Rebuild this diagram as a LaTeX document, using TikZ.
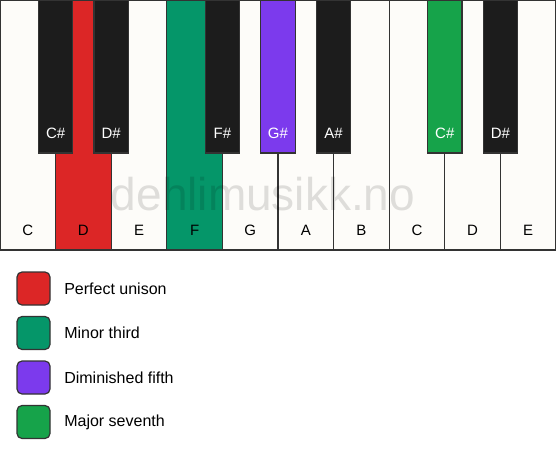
\documentclass[tikz,border=0pt]{standalone}
\usepackage{fontspec}
\setmainfont{Liberation Sans}
\usetikzlibrary{positioning}

\definecolor{keywhite}{HTML}{FDFCF9}
\definecolor{keyblack}{HTML}{1C1C1C}
\definecolor{keyline}{HTML}{333333}
\definecolor{unison}{HTML}{DC2626}
\definecolor{minthird}{HTML}{059669}
\definecolor{dimfifth}{HTML}{7C3AED}
\definecolor{majseventh}{HTML}{16A34A}

\tikzset{
	whitekey/.style={draw=keyline, line width=1.2pt, rectangle, inner sep=0pt, minimum width=\w pt, minimum height=\h pt},
	blackkey/.style={draw=keyline, line width=1.2pt, rectangle, inner sep=0pt, minimum width=\bw pt, minimum height=\bh pt},
	keylabel/.style={font=\fontsize{15}{15}\selectfont, inner sep=0pt},
	legendbox/.style={draw=keyline, line width=1.2pt, rounded corners=5pt, minimum size=33pt, inner sep=0pt},
	legendtext/.style={font=\fontsize{16}{16}\selectfont, inner sep=0pt, anchor=west}
}

\begin{document}
\begin{tikzpicture}[x=1pt,y=1pt]

	\def\w{55.6}		% width of a white key
	\def\h{250}		% height of a white key
	\def\bw{34.5}		% width of a black key
	\def\bh{153}		% height of a black key
	\def\gap{44.5}		% distance between the legend entries

	\useasboundingbox (0,0) rectangle (556,-461);

	\foreach \name/\col [count=\i from 0] in {C/keywhite, D/unison, E/keywhite, F/minthird, G/keywhite, A/keywhite, B/keywhite, C/keywhite, D/keywhite, E/keywhite}{% white keys
		\node[whitekey, fill=\col] (w\i) at ({(\i+0.5)*\w}, -\h/2) {};
		\node[keylabel] (wl\i) at ({(\i+0.5)*\w}, -230) {\name};
	}

	\node[font=\fontsize{46}{46}\selectfont, text=black, opacity=0.12, inner sep=0pt, anchor=base] (mark) at (263,-210) {dehlimusikk.no}; % watermark

	\foreach \p/\name/\col in {1/C\#/keyblack, 2/D\#/keyblack, 4/F\#/keyblack, 5/G\#/dimfifth, 6/A\#/keyblack, 8/C\#/majseventh, 9/D\#/keyblack}{% black keys
		\node[blackkey, fill=\col] (b\p) at (\p*\w, -\bh/2) {};
		\node[keylabel, text=white, yshift=20] (bl\p) at (b\p.south) {\name};
	}

	\foreach \col/\txt [count=\k from 0] in {unison/Perfect unison, minthird/Minor third, dimfifth/Diminished fifth, majseventh/Major seventh}{% legend
		\node[legendbox, fill=\col] (l\k) at (33.5, {-288.5-\gap*\k}) {};
		\node[legendtext, right=13.5pt of l\k] (t\k) {\txt};
	}

\end{tikzpicture}
\end{document}
